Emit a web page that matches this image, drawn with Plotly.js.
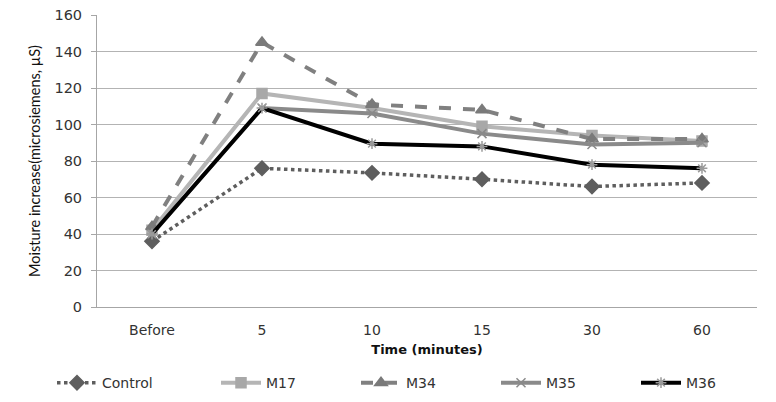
<!DOCTYPE html>
<html><head><meta charset="utf-8">
<script src="https://cdn.plot.ly/plotly-3.0.1.min.js"></script>
<style>html,body{margin:0;padding:0;background:#fff}#c{width:776px;height:402px}</style>
</head><body><div id="c"></div>
<script>
const categories = ["Before", "5", "10", "15", "30", "60"];
const control = [36, 76, 73.5, 70, 66, 68];
const m17 = [42, 117, 109, 99, 94, 91];
const m34 = [44, 145, 111, 108, 92, 92];
const m35 = [40, 109, 106, 95, 89, 90];
const m36 = [40, 109, 89.5, 88, 78, 76];
const seriesNames = ["Control", "M17", "M34", "M35", "M36"];

const styles = [
  {color:"#5e5e5e", dash:"dot", width:3.5, symbol:"diamond", msize:11, mcolor:"#5e5e5e"},
  {color:"#b5b5b5", dash:"solid", width:4, symbol:"square", msize:10, mcolor:"#a8a8a8"},
  {color:"#808080", dash:"dash", width:4, symbol:"triangle-up", msize:11, mcolor:"#7a7a7a"},
  {color:"#8a8a8a", dash:"solid", width:4, symbol:"x-thin-open", msize:9, mcolor:"#8a8a8a"},
  {color:"#000000", dash:"solid", width:4, symbol:"asterisk-open", msize:9, mcolor:"#9a9a9a"}
];
const data = [control, m17, m34, m35, m36].map((ys, i) => ({
  type: "scatter", mode: "lines+markers", name: seriesNames[i],
  legend: i === 0 ? "legend" : "legend2",
  x: categories, y: ys,
  line: {color: styles[i].color, dash: styles[i].dash, width: styles[i].width},
  marker: {symbol: styles[i].symbol, size: styles[i].msize, color: styles[i].mcolor,
           line: {color: styles[i].mcolor, width: 1.5}}
}));

const legendBase = {orientation: "h", xref: "container", yref: "container",
  xanchor: "left", y: 0.047, yanchor: "middle",
  font: {size: 14, color: "#333"}, itemwidth: 40, bgcolor: "rgba(0,0,0,0)"};

const layout = {
  width: 776, height: 402,
  margin: {l: 97, r: 19, t: 15, b: 95, autoexpand: false},
  paper_bgcolor: "#fff", plot_bgcolor: "#fff",
  font: {family: "'DejaVu Sans', sans-serif", size: 14, color: "#333"},
  showlegend: true,
  legend: Object.assign({}, legendBase, {x: 52 / 776}),
  legend2: Object.assign({}, legendBase, {x: 216 / 776, entrywidth: 85}),
  xaxis: {type: "category", range: [-0.5, 5.5], showgrid: false, zeroline: false, showline: true,
          linecolor: "#a6a6a6", linewidth: 1, ticks: "", ticklabelstandoff: 10,
          tickfont: {size: 14, color: "#333"},
          title: {text: "<b>Time (minutes)</b>", font: {size: 13, color: "#111"}, standoff: 8}},
  yaxis: {range: [0, 160], dtick: 20, showgrid: true, gridcolor: "#b3b3b3", gridwidth: 1,
          zeroline: false, showline: true, linecolor: "#a6a6a6", linewidth: 1,
          ticks: "outside", ticklen: 5, tickcolor: "#a6a6a6", ticklabelstandoff: 6,
          tickfont: {size: 14.5, color: "#333"},
          title: {text: "Moisture increase(microsiemens, µS)", font: {family: "Lato, sans-serif", size: 14.5, color: "#111"}, standoff: 10}}
};
Plotly.newPlot("c", data, layout, {displayModeBar: false, staticPlot: true});
</script></body></html>
